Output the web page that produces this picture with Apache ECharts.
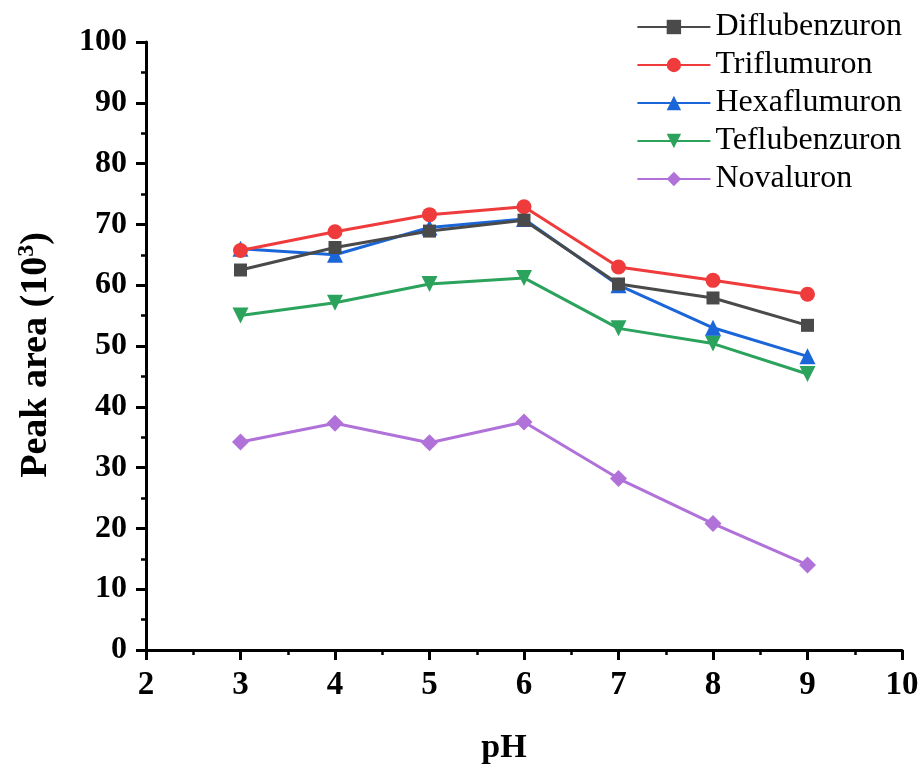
<!DOCTYPE html>
<html>
<head>
<meta charset="utf-8">
<script src="https://cdn.jsdelivr.net/npm/echarts@6/dist/echarts.min.js"></script>
<style>
  html, body { margin: 0; padding: 0; background: #fff; }
  #main { width: 923px; height: 772px; }
</style>
</head>
<body>
<div id="main"></div>
<script>
// pH values on the x axis
var phValues = [3, 4, 5, 6, 7, 8, 9];
// peak areas (10^3)
var diflubenzuron = [62.5, 66.2, 68.9, 70.7, 60.2, 57.9, 53.4];
var triflumuron   = [65.7, 68.8, 71.6, 72.9, 63.0, 60.8, 58.5];
var hexaflumuron  = [66.0, 65.0, 69.5, 70.9, 60.0, 53.0, 48.3];
var teflubenzuron = [55.0, 57.1, 60.2, 61.2, 52.9, 50.4, 45.4];
var novaluron     = [34.2, 37.3, 34.1, 37.5, 28.2, 20.8, 14.0];

var seriesNames = ['Diflubenzuron', 'Triflumuron', 'Hexaflumuron', 'Teflubenzuron', 'Novaluron'];
var seriesData = [diflubenzuron, triflumuron, hexaflumuron, teflubenzuron, novaluron];
var colors = ['#4a4a4a', '#ef3b3b', '#1a66d9', '#2ba35c', '#b072d9'];
var symbols = ['rect', 'circle', 'triangle', 'triangle', 'diamond'];
var rotates = [0, 0, 0, 180, 0];
var sizes = [13, 15, 16, 16, 17];

var font = '"Liberation Serif", "Times New Roman", serif';

var chart = echarts.init(document.getElementById('main'));

var series = seriesNames.map(function (name, i) {
  return {
    name: name,
    type: 'line',
    data: phValues.map(function (x, j) { return [x, seriesData[i][j]]; }),
    symbol: symbols[i],
    symbolRotate: rotates[i],
    symbolSize: sizes[i],
    showAllSymbol: true,
    lineStyle: { color: colors[i], width: 3 },
    itemStyle: { color: colors[i] },
    z: 10 - i
  };
});

chart.setOption({
  animation: false,
  grid: { left: 146, right: 21, top: 42, bottom: 122 },
  legend: {
    orient: 'vertical',
    right: 16,
    top: 6,
    itemWidth: 73,
    itemHeight: 18,
    itemGap: 6,
    textStyle: { fontFamily: font, fontSize: 32, color: '#000' },
    data: seriesNames
  },
  xAxis: {
    type: 'value',
    min: 2,
    max: 10,
    interval: 1,
    name: 'pH',
    nameLocation: 'middle',
    nameGap: 81,
    nameTextStyle: { fontFamily: font, fontSize: 34, fontWeight: 'bold', color: '#000', padding: [0, 40, 0, 0] },
    axisLine: { lineStyle: { color: '#000', width: 3 } },
    axisTick: { show: true, length: 10, lineStyle: { width: 3, color: '#000' } },
    minorTick: { show: true, splitNumber: 2, length: 5, lineStyle: { width: 2.5, color: '#000' } },
    axisLabel: { fontFamily: font, fontSize: 33, fontWeight: 'bold', color: '#000', margin: 19 },
    splitLine: { show: false }
  },
  yAxis: {
    type: 'value',
    min: 0,
    max: 100,
    interval: 10,
    name: '{a|Peak area (10}{s|3}{a|)}',
    nameLocation: 'middle',
    nameRotate: 90,
    nameGap: 88,
    nameTextStyle: {
      padding: [0, 18, 0, 0],
      rich: {
        a: { fontFamily: font, fontSize: 38, fontWeight: 'bold', color: '#000' },
        s: { fontFamily: font, fontSize: 24, fontWeight: 'bold', color: '#000', verticalAlign: 'top', padding: [0, 0, 19, 0] }
      }
    },
    axisLine: { show: true, lineStyle: { color: '#000', width: 3 } },
    axisTick: { show: true, length: 10, lineStyle: { width: 3, color: '#000' } },
    minorTick: { show: true, splitNumber: 2, length: 5, lineStyle: { width: 2.5, color: '#000' } },
    axisLabel: { fontFamily: font, fontSize: 32, fontWeight: 'bold', color: '#000', margin: 19 },
    splitLine: { show: false }
  },
  series: series
});
</script>
</body>
</html>
